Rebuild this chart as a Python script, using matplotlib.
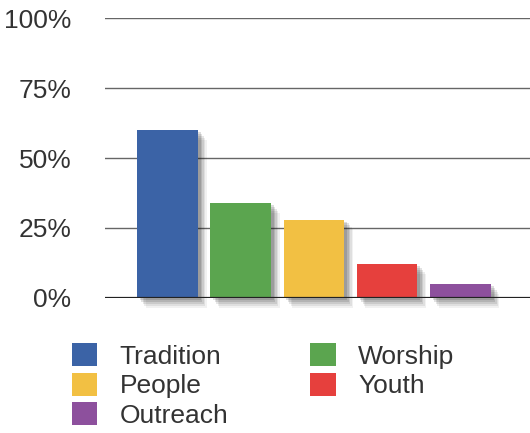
import matplotlib
matplotlib.use('Agg')
import matplotlib.pyplot as plt
from matplotlib.patches import Patch

# values
categories = ['Tradition', 'Worship', 'People', 'Youth', 'Outreach']
values = [60, 34, 28, 12, 5]
colors = ['#3b63a6', '#5ba54f', '#f2c043', '#e6403d', '#8d509d']
yticks = [0, 25, 50, 75, 100]
ytick_labels = ['0%', '25%', '50%', '75%', '100%']

plt.rcParams['font.family'] = ['Liberation Sans', 'DejaVu Sans']

fig = plt.figure(figsize=(5.3, 4.33), dpi=100)
ax = fig.add_axes([0.198, 0.312, 0.802, 0.646])

x = list(range(len(categories)))
width = 0.83

# blurry drop shadow: a stack of offset, faint dark bars
for dx, dy, a in [(0.12, -3.5, 0.06), (0.10, -2.8, 0.08), (0.08, -2.1, 0.10),
                  (0.06, -1.4, 0.12), (0.04, -0.7, 0.14)]:
    ax.bar([xi + dx for xi in x], values, width=width, bottom=dy, color='#111111',
           alpha=a, zorder=2, linewidth=0, clip_on=False)

ax.bar(x, values, width=width, color=colors, zorder=3, linewidth=0)

for t in yticks[1:]:
    ax.axhline(t, color='#666666', linewidth=1.0, zorder=1)
ax.axhline(0, color='#222222', linewidth=1.6, zorder=4)

ax.set_xlim(-0.854, 4.952)
ax.set_ylim(0, 100)
ax.set_yticks(yticks)
ax.set_yticklabels(ytick_labels, fontsize=19, color='#333333')
ax.tick_params(axis='y', length=0, pad=24)
ax.set_xticks([])
for s in ax.spines.values():
    s.set_visible(False)
ax.patch.set_alpha(0)

order = [0, 2, 4, 1, 3]
handles = [Patch(facecolor=colors[i], edgecolor='none', label=categories[i]) for i in order]
fig.legend(handles=handles, ncol=2, loc='upper left', bbox_to_anchor=(0.136, 0.207),
           frameon=False, fontsize=19, handlelength=0.96, handleheight=0.96,
           handletextpad=0.85, labelspacing=0.15, columnspacing=3.1, borderpad=0,
           borderaxespad=0, labelcolor='#333333')

fig.savefig('out.png', dpi=100)
